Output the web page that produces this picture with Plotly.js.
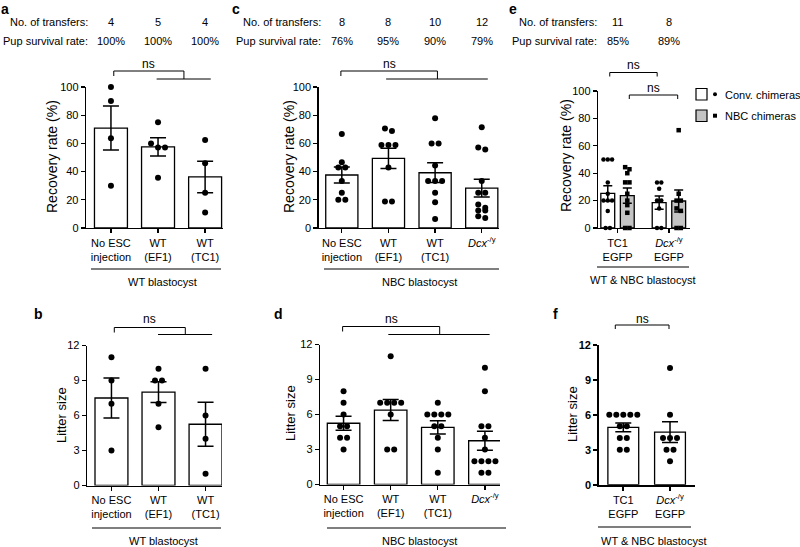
<!DOCTYPE html>
<html><head><meta charset="utf-8">
<script src="https://cdn.plot.ly/plotly-3.0.1.min.js"></script>
<style>body{margin:0;background:#fff}#plot{width:800px;height:547px}</style>
</head><body><div id="plot"></div>
<script>
// ================= DATA =================
const catsAB = ['No ESC<br>injection', 'WT<br>(EF1)', 'WT<br>(TC1)'];
const catsCD = ['No ESC<br>injection', 'WT<br>(EF1)', 'WT<br>(TC1)', '<i>Dcx</i><sup>-/y</sup>'];
const catsEF = ['TC1<br>EGFP', '<i>Dcx</i><sup>-/y</sup><br>EGFP'];

const transfersA = ['4', '5', '4'];
const survivalA  = ['100%', '100%', '100%'];
const transfersC = ['8', '8', '10', '12'];
const survivalC  = ['76%', '95%', '90%', '79%'];
const transfersE = ['11', '8'];
const survivalE  = ['85%', '89%'];

// a: recovery rate, WT blastocyst
const recA_mean = [70.9, 57.5, 36.2];
const recA_sem  = [15.6, 6.5, 11.2];
const recA_pts  = [[100, 90, 63.6, 30], [75, 60, 57.1, 57.1, 35.7], [62.5, 46, 25, 11]];
// b: litter size, WT blastocyst
const litB_mean = [7.5, 8.0, 5.25];
const litB_sem  = [1.71, 0.89, 1.89];
const litB_pts  = [[11, 9, 7, 3], [10, 9, 9, 7, 5], [10, 6, 4, 1]];
// c: recovery rate, NBC blastocyst
const recC_mean = [37.6, 49.4, 39.2, 28.3];
const recC_sem  = [5.7, 7.2, 7.0, 6.3];
const recC_pts  = [
  [66.7, 46.7, 42.9, 42.9, 33.3, 25, 20, 20],
  [70.6, 68.8, 58.8, 58.8, 58.8, 42.9, 18.8, 18.8],
  [77.8, 60, 60, 44.4, 33.3, 33.3, 33.3, 25, 18.2, 6.3],
  [71.4, 57.1, 55.6, 33.3, 25, 25, 16.7, 14.3, 12.5, 12.5, 8.3, 7.1]
];
// d: litter size, NBC blastocyst
const litD_mean = [5.25, 6.38, 4.9, 3.75];
const litD_sem  = [0.59, 0.9, 0.57, 0.82];
const litD_pts  = [
  [8, 7, 6, 5, 5, 4, 4, 3],
  [11, 7, 7, 7, 7, 6, 3, 3],
  [7, 6, 6, 6, 6, 5, 5, 4, 3, 1],
  [10, 8, 5, 5, 4, 3, 2, 2, 2, 2, 1, 1]
];
// e: recovery rate, conv vs NBC chimeras
const recE_conv_mean = [25.3, 18.5];
const recE_conv_sem  = [5.6, 4.8];
const recE_nbc_mean  = [23.6, 19.7];
const recE_nbc_sem   = [5.6, 8.0];
const recE_conv_pts  = [[50, 50, 50, 33.3, 25, 20, 20, 20, 12.5, 0, 0], [33.3, 33.3, 28.6, 20, 20, 14.3, 0, 0]];
const recE_nbc_pts   = [[44.4, 42.9, 40, 33.3, 33.3, 25, 20, 16.7, 11.1, 0, 0], [71.4, 25, 20, 20, 14.3, 12.5, 0, 0]];
// f: litter size, WT & NBC
const litF_mean = [4.91, 4.5];
const litF_sem  = [0.37, 0.89];
const litF_pts  = [[6, 6, 6, 6, 6, 5, 5, 4, 4, 3, 3], [10, 6, 4, 4, 4, 3, 3, 2]];

// ================= LAYOUT GEOMETRY (px) =================
const W = 800, H = 547;
const FONT = 'Arial, "Liberation Sans", sans-serif';
const geo = {
  a: {xd: [86, 223],   yd: [87, 228],     xr: [-0.53, 2.38], yr: [0, 100], dt: 20},
  b: {xd: [87, 222],   yd: [345.5, 485.5], xr: [-0.52, 2.35], yr: [0, 12], dt: 3},
  c: {xd: [318.5, 499], yd: [87, 228],    xr: [-0.5, 3.37],  yr: [0, 100], dt: 20},
  d: {xd: [320, 500],  yd: [344.5, 484.5], xr: [-0.5, 3.32], yr: [0, 12], dt: 3},
  e: {xd: [598, 690],  yd: [91, 228],     xr: [-0.38, 1.41], yr: [0, 100], dt: 20},
  f: {xd: [599, 695],  yd: [344.7, 484.7], xr: [-0.52, 1.535], yr: [0, 12], dt: 3}
};
const ids = {a: '', b: '2', c: '3', d: '4', e: '5', f: '6'};
const PX = x => x / W, PY = y => 1 - y / H;
function xPx(p, v) { const g = geo[p]; return g.xd[0] + (v - g.xr[0]) / (g.xr[1] - g.xr[0]) * (g.xd[1] - g.xd[0]); }

function swarm(p, vals, markerPx, spacingPx) {
  const g = geo[p];
  const pyu = (g.yd[1] - g.yd[0]) / (g.yr[1] - g.yr[0]);
  const pxu = (g.xd[1] - g.xd[0]) / (g.xr[1] - g.xr[0]);
  const idx = vals.map((v, i) => i).sort((i, j) => vals[j] - vals[i]);
  const rows = [];
  idx.forEach(i => {
    const last = rows[rows.length - 1];
    if (last && (vals[last[0]] - vals[i]) * pyu < markerPx * 0.75) last.push(i); else rows.push([i]);
  });
  const off = new Array(vals.length).fill(0);
  rows.forEach(r => r.forEach((i, k) => { off[i] = (k - (r.length - 1) / 2) * spacingPx / pxu; }));
  return off;
}

const traces = [];
const layout = {
  width: W, height: H, margin: {l: 0, r: 0, t: 0, b: 0},
  paper_bgcolor: 'white', plot_bgcolor: 'rgba(0,0,0,0)',
  showlegend: false, barmode: 'overlay',
  font: {family: FONT, size: 11, color: 'black'},
  shapes: [], annotations: []
};

function addAxes(p, tickvals, ticktext, bold) {
  const g = geo[p], id = ids[p];
  const lw = bold ? 1.8 : 1.3;
  layout['xaxis' + id] = {
    domain: [PX(g.xd[0]), PX(g.xd[1])], range: g.xr, anchor: 'y' + id,
    showline: true, linecolor: 'black', linewidth: lw, ticks: 'outside', ticklen: 4, tickwidth: lw, tickcolor: 'black',
    tickvals: tickvals, ticktext: ticktext, tickfont: {family: FONT, size: 11, color: 'black'},
    showgrid: false, zeroline: false, fixedrange: true
  };
  const yv = []; for (let v = g.yr[0]; v <= g.yr[1] + 1e-9; v += g.dt) yv.push(v);
  layout['yaxis' + id] = {
    domain: [PY(g.yd[1]), PY(g.yd[0])], range: g.yr, anchor: 'x' + id,
    showline: true, linecolor: 'black', linewidth: lw, ticks: 'outside', ticklen: 4, tickwidth: lw, tickcolor: 'black',
    tickvals: yv, ticktext: yv.map(String),
    tickfont: {family: FONT, size: 11, color: 'black', weight: bold ? 'bold' : 'normal'},
    showgrid: false, zeroline: false, fixedrange: true
  };
}

function addBars(p, xs, means, sems, width, fill, capW) {
  const id = ids[p];
  traces.push({
    type: 'bar', x: xs, y: means, width: width, xaxis: 'x' + id, yaxis: 'y' + id,
    marker: {color: fill, line: {color: 'black', width: 1.3}},
    error_y: {type: 'data', array: sems, visible: true, color: 'black', thickness: 1.5, width: capW},
    hoverinfo: 'skip'
  });
}
function addDots(p, centers, ptsList, size, spacing, symbol) {
  const id = ids[p];
  const xs = [], ys = [];
  ptsList.forEach((vals, k) => {
    const off = swarm(p, vals, size, spacing);
    vals.forEach((v, i) => { xs.push(centers[k] + off[i]); ys.push(v); });
  });
  traces.push({
    type: 'scatter', mode: 'markers', x: xs, y: ys, xaxis: 'x' + id, yaxis: 'y' + id,
    marker: {color: 'black', size: size, symbol: symbol || 'circle', line: {width: 0}},
    cliponaxis: false, hoverinfo: 'skip'
  });
}

function line(x0, y0, x1, y1, w) {
  layout.shapes.push({type: 'line', xref: 'paper', yref: 'paper', x0: PX(x0), y0: PY(y0), x1: PX(x1), y1: PY(y1),
    line: {color: 'black', width: w || 1}});
}
function text(x, y, t, opts) {
  layout.annotations.push(Object.assign({xref: 'paper', yref: 'paper', x: PX(x), y: PY(y), text: t, showarrow: false,
    xanchor: 'center', yanchor: 'middle', font: {family: FONT, size: 11, color: 'black'}}, opts || {}));
}

// ---------- panels a, b ----------
const idx3 = [0, 1, 2], idx4 = [0, 1, 2, 3], idx2 = [0, 1];
addAxes('a', idx3, catsAB);
addBars('a', idx3, recA_mean, recA_sem, 0.7, 'white', 8);
addDots('a', idx3, recA_pts, 6, 7);
addAxes('b', idx3, catsAB);
addBars('b', idx3, litB_mean, litB_sem, 0.7, 'white', 8);
addDots('b', idx3, litB_pts, 6, 7);
// ---------- panels c, d ----------
addAxes('c', idx4, catsCD);
addBars('c', idx4, recC_mean, recC_sem, 0.69, 'white', 8);
addDots('c', idx4, recC_pts, 6, 7);
addAxes('d', idx4, catsCD);
addBars('d', idx4, litD_mean, litD_sem, 0.69, 'white', 8);
addDots('d', idx4, litD_pts, 6, 7);
// ---------- panel e ----------
const eOff = 0.19;
const eConvX = idx2.map(i => i - eOff), eNbcX = idx2.map(i => i + eOff);
addAxes('e', idx2, catsEF);
addBars('e', eConvX, recE_conv_mean, recE_conv_sem, 0.27, 'white', 4.5);
addBars('e', eNbcX, recE_nbc_mean, recE_nbc_sem, 0.27, '#c4c4c4', 4.5);
addDots('e', eConvX, recE_conv_pts, 4.5, 4.3, 'circle');
addDots('e', eNbcX, recE_nbc_pts, 4.5, 4.3, 'square');
// ---------- panel f ----------
addAxes('f', idx2, catsEF, true);
addBars('f', idx2, litF_mean, litF_sem, 0.66, 'white', 8);
addDots('f', idx2, litF_pts, 6, 7);

// ---------- panel letters ----------
const letterFont = {family: FONT, size: 14, color: 'black', weight: 'bold'};
[['a', 5, 9], ['c', 236, 9], ['e', 513, 9], ['b', 38, 314], ['d', 278, 314], ['f', 555, 314]].forEach(l =>
  text(l[1], l[2], l[0], {font: letterFont}));

// ---------- header rows ----------
function header(p, endX, transfers, survival, centers) {
  text(endX, 22, 'No. of transfers:', {xanchor: 'right'});
  text(endX, 41, 'Pup survival rate:', {xanchor: 'right'});
  centers.forEach((c, i) => {
    text(xPx(p, c), 22, transfers[i]);
    text(xPx(p, c), 41, survival[i]);
  });
}
header('a', 90, transfersA, survivalA, idx3);
header('c', 323, transfersC, survivalC, idx4);
header('e', 599, transfersE, survivalE, idx2);

// ---------- y-axis titles ----------
const tFont = {family: FONT, size: 14, color: 'black'};
const lFont = {family: FONT, size: 13, color: 'black'};
text(52, 157, 'Recovery rate (%)', {textangle: -90, font: tFont});
text(289, 157, 'Recovery rate (%)', {textangle: -90, font: tFont});
text(566, 156, 'Recovery rate (%)', {textangle: -90, font: tFont});
text(61, 415, 'Litter size', {textangle: -90, font: lFont});
text(290, 413, 'Litter size', {textangle: -90, font: lFont});
text(572, 414, 'Litter size', {textangle: -90, font: lFont});

// ---------- significance brackets ----------
const nsFont = {family: FONT, size: 12, color: 'black'};
function bracket3(p, yTop, yLow, nsY, xL, xJ, x2a, x2b) {
  line(xL, yTop, xJ, yTop); line(xL, yTop, xL, yTop + 5);
  line(xJ, yTop, xJ, yLow); line(x2a, yLow, x2b, yLow);
  text((xL + xJ) / 2, nsY, 'ns', {font: nsFont});
}
bracket3('a', 71, 79, 64, xPx('a', 0.06), xPx('a', 1.55), xPx('a', 0.97), xPx('a', 2.12));
bracket3('b', 327.5, 334.5, 319, xPx('b', 0.06), xPx('b', 1.57), xPx('b', 0.99), xPx('b', 2.14));
bracket3('c', 71, 79, 64, xPx('c', -0.02), xPx('c', 2.05), xPx('c', 0.95), xPx('c', 3.13));
bracket3('d', 326.5, 334.5, 319, xPx('d', -0.02), xPx('d', 2.04), xPx('d', 0.95), xPx('d', 3.1));
function bracketSimple(x0, x1, y, nsY) {
  line(x0, y, x1, y); line(x0, y, x0, y + 4); line(x1, y, x1, y + 4);
  text((x0 + x1) / 2, nsY, 'ns', {font: nsFont});
}
bracketSimple(xPx('e', eConvX[0]) + 2, xPx('e', eConvX[1]) - 2, 72.5, 65);
bracketSimple(xPx('e', eNbcX[0]) + 2, xPx('e', eNbcX[1]) - 1, 95, 88);
bracketSimple(xPx('f', 0) - 8, xPx('f', 1) - 1, 325, 318.5);

// ---------- group underlines ----------
line(91, 269, 221, 269, 1.2); text(162, 282, 'WT blastocyst');
line(324, 269, 499, 269, 1.2); text(419, 282, 'NBC blastocyst');
line(597, 267, 689, 267, 1.2); text(643, 280, 'WT &amp; NBC blastocyst');
line(92, 528, 221, 528, 1.2); text(163, 540.5, 'WT blastocyst');
line(327, 528, 506, 528, 1.2); text(419, 540.5, 'NBC blastocyst');
line(598, 527, 691, 527, 1.2); text(654, 540.5, 'WT &amp; NBC blastocyst');

// ---------- legend (panel e) ----------
layout.shapes.push({type: 'rect', xref: 'paper', yref: 'paper', x0: PX(696), x1: PX(707), y0: PY(100), y1: PY(88.5),
  fillcolor: 'white', line: {color: 'black', width: 1.2}});
layout.shapes.push({type: 'rect', xref: 'paper', yref: 'paper', x0: PX(696), x1: PX(707), y0: PY(121.5), y1: PY(110),
  fillcolor: '#c4c4c4', line: {color: 'black', width: 1.2}});
layout.shapes.push({type: 'circle', xref: 'paper', yref: 'paper', x0: PX(713), x1: PX(717), y0: PY(96.3), y1: PY(92.3),
  fillcolor: 'black', line: {width: 0}});
layout.shapes.push({type: 'rect', xref: 'paper', yref: 'paper', x0: PX(713), x1: PX(717), y0: PY(117.7), y1: PY(113.7),
  fillcolor: 'black', line: {width: 0}});
text(723, 94.5, 'Conv. chimeras', {xanchor: 'left'});
text(723, 116, 'NBC chimeras', {xanchor: 'left'});

Plotly.newPlot('plot', traces, layout, {staticPlot: true, displayModeBar: false});
</script>
</body></html>
